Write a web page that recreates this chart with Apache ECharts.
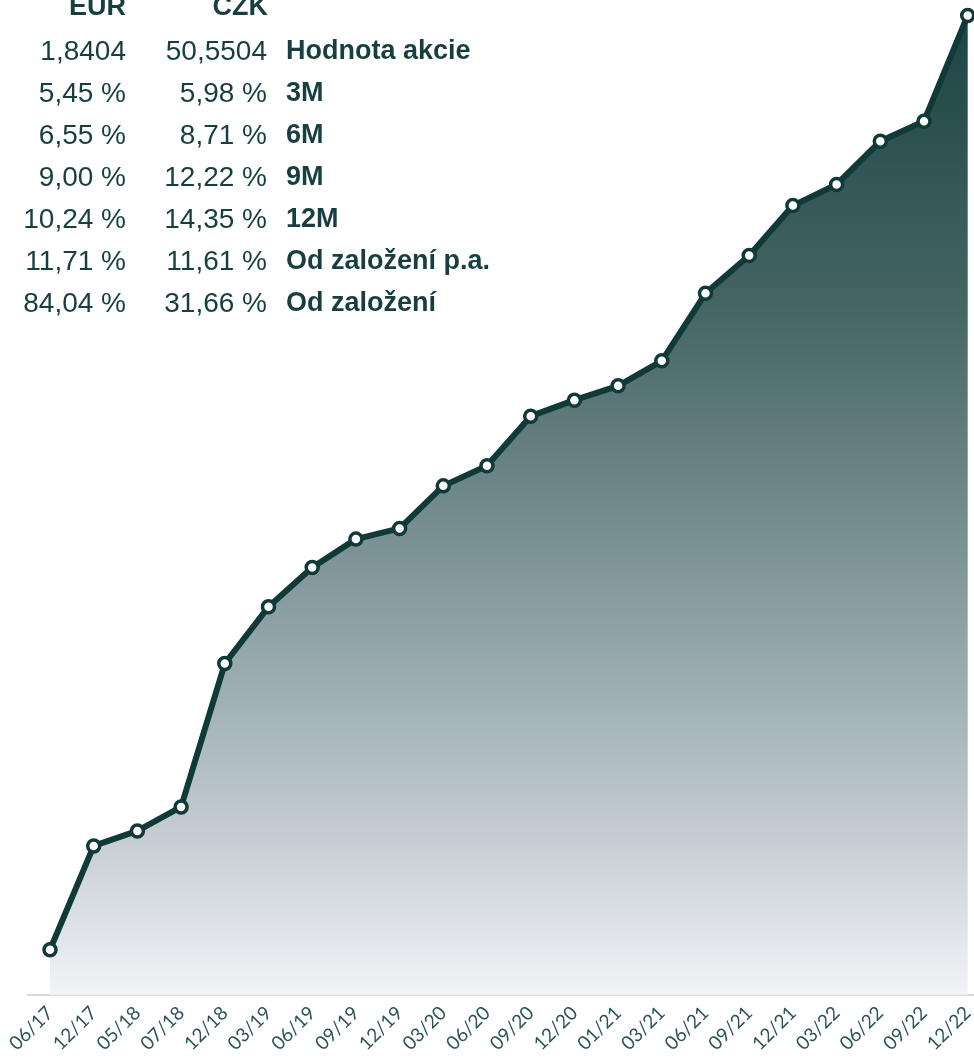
<!DOCTYPE html>
<html>
<head>
<meta charset="utf-8">
<script src="https://cdn.jsdelivr.net/npm/echarts@6/dist/echarts.min.js"></script>
<style>
  html, body { margin: 0; padding: 0; background: #ffffff; }
  #chart { width: 974px; height: 1059px; }
</style>
</head>
<body>
<div id="chart"></div>
<script>
// ---- data ----
const categories = ['06/17','12/17','05/18','07/18','12/18','03/19','06/19','09/19','12/19','03/20','06/20','09/20','12/20','01/21','03/21','06/21','09/21','12/21','03/22','06/22','09/22','12/22'];
const values = [1.0000, 1.0934, 1.1069, 1.1285, 1.2575, 1.3085, 1.3439, 1.3694, 1.3790, 1.4173, 1.4353, 1.4800, 1.4944, 1.5073, 1.5298, 1.5905, 1.6246, 1.6694, 1.6884, 1.7273, 1.7453, 1.8404];

const tableHeaders = ['EUR', 'CZK'];
const eurColumn = ['1,8404', '5,45 %', '6,55 %', '9,00 %', '10,24 %', '11,71 %', '84,04 %'];
const czkColumn = ['50,5504', '5,98 %', '8,71 %', '12,22 %', '14,35 %', '11,61 %', '31,66 %'];
const rowLabels = ['Hodnota akcie', '3M', '6M', '9M', '12M', 'Od založení p.a.', 'Od založení'];

// ---- table as graphic text ----
const textColor = '#173f3f';
const tableFont = '"Liberation Sans", Arial, sans-serif';
const numFs = 28;
const lblFs = 27;
const graphics = [];
graphics.push({ type: 'text', x: 126, y: 8, style: { text: tableHeaders[0], align: 'right', verticalAlign: 'middle', fill: textColor, font: 'bold ' + lblFs + 'px ' + tableFont } });
graphics.push({ type: 'text', x: 268, y: 8, style: { text: tableHeaders[1], align: 'right', verticalAlign: 'middle', fill: textColor, font: 'bold ' + lblFs + 'px ' + tableFont } });
for (let i = 0; i < rowLabels.length; i++) {
  const y = 52 + 42 * i;
  graphics.push({ type: 'text', x: 126, y: y, style: { text: eurColumn[i], align: 'right', verticalAlign: 'middle', fill: textColor, font: numFs + 'px ' + tableFont } });
  graphics.push({ type: 'text', x: 267, y: y, style: { text: czkColumn[i], align: 'right', verticalAlign: 'middle', fill: textColor, font: numFs + 'px ' + tableFont } });
  graphics.push({ type: 'text', x: 286, y: y, style: { text: rowLabels[i], align: 'left', verticalAlign: 'middle', fill: textColor, font: 'bold ' + lblFs + 'px ' + tableFont } });
}

const gridTop = 15.5;
const gridBottomY = 994.8;

const chart = echarts.init(document.getElementById('chart'), null, { renderer: 'canvas' });
chart.setOption({
  animation: false,
  backgroundColor: '#ffffff',
  grid: { left: 28.15, width: 961.4, top: gridTop, bottom: 1059 - gridBottomY, containLabel: false, outerBoundsMode: 'none' },
  xAxis: {
    type: 'category',
    data: categories,
    boundaryGap: true,
    axisLine: { show: true, lineStyle: { color: '#d9d9d9', width: 2 } },
    axisTick: { show: false },
    axisLabel: { rotate: 45, margin: 15, interval: 0, color: '#2a5454', fontSize: 19, fontFamily: 'Lato, "Open Sans", sans-serif' },
    splitLine: { show: false }
  },
  yAxis: {
    type: 'value',
    min: 0.9595,
    max: 1.8404,
    show: false,
    splitLine: { show: false }
  },
  series: [{
    type: 'line',
    data: values,
    clip: false,
    symbol: 'circle',
    symbolSize: 12,
    showAllSymbol: true,
    lineStyle: { color: '#0f3a38', width: 6 },
    itemStyle: { color: '#ffffff', borderColor: '#0f3a38', borderWidth: 3.5 },
    areaStyle: {
      opacity: 1,
      color: new echarts.graphic.LinearGradient(0, gridTop, 0, gridBottomY, [
        { offset: 0, color: '#1c4444' },
        { offset: 0.3, color: '#466565' },
        { offset: 0.5, color: '#718a8c' },
        { offset: 0.7, color: '#a0b1b5' },
        { offset: 0.85, color: '#c8d0d5' },
        { offset: 1, color: '#f2f3f7' }
      ], true)
    },
    z: 3
  }],
  graphic: graphics
});
</script>
</body>
</html>
